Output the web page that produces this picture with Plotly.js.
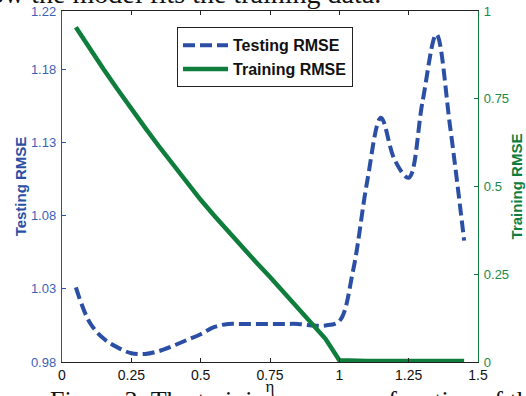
<!DOCTYPE html>
<html><head><meta charset="utf-8">
<script src="https://cdn.plot.ly/plotly-3.0.1.min.js"></script>
<style>html,body{margin:0;padding:0;background:#fff;overflow:hidden}</style>
</head><body><div id="chart" style="width:526px;height:396px"></div>
<script>
const eta = [0.05,0.10,0.15,0.20,0.25,0.30,0.35,0.40,0.45,0.50,0.55,0.60,0.65,0.70,0.75,0.80,0.85,0.90,0.95,1.00,1.05,1.10,1.15,1.20,1.25,1.30,1.35,1.40,1.45];
const testingRMSE = [1.031,1.007,0.996,0.990,0.986,0.9855,0.9875,0.991,0.995,0.999,1.004,1.006,1.006,1.006,1.006,1.006,1.006,1.005,1.005,1.008,1.043,1.103,1.147,1.118,1.106,1.158,1.204,1.140,1.063];
const trainingRMSE = [0.954,0.893,0.834,0.777,0.720,0.667,0.614,0.562,0.511,0.462,0.416,0.371,0.327,0.284,0.242,0.199,0.155,0.111,0.066,0.005,0.003,0.003,0.003,0.003,0.003,0.003,0.003,0.003,0.003];
const xTicks = [0,0.25,0.5,0.75,1,1.25,1.5];
const xTickLabels = ['0','0.25','0.5','0.75','1','1.25','1.5'];
const leftTicks = [0.98,1.03,1.08,1.13,1.18,1.22];
const leftTickLabels = ['0.98','1.03','1.08','1.13','1.18','1.22'];
const rightTicks = [0,0.25,0.5,0.75,1];
const rightTickLabels = ['0','0.25','0.5','0.75','1'];
const seriesNames = ['Testing RMSE','Training RMSE'];
const captionTop = 'how the model fits the training data.';
const captionBottom = 'Figure 3: The training error as a function of the ratio.';

const BLUE = '#2c4fa6';
const BLUE_T = '#3d5fb8';
const GREEN = '#0f7d3c';
const GREEN_T = '#178a48';
const SANS = 'Liberation Sans, Arial, sans-serif';
const SERIF = 'Liberation Serif, Times New Roman, serif';

const traces = [
  {x: eta, y: testingRMSE, yaxis: 'y', type: 'scatter', mode: 'lines', name: seriesNames[0],
   line: {color: BLUE, width: 4, dash: '12px,5px', shape: 'spline', smoothing: 1}},
  {x: eta, y: trainingRMSE, yaxis: 'y2', type: 'scatter', mode: 'lines', name: seriesNames[1],
   line: {color: GREEN, width: 4.5}}
];

const layout = {
  width: 526, height: 396,
  margin: {l: 62, r: 48, t: 11, b: 34, pad: 0},
  paper_bgcolor: '#fff', plot_bgcolor: '#fff',
  showlegend: true,
  legend: {x: 0.276, y: 0.954, xanchor: 'left', yanchor: 'top', bgcolor: '#fff',
    bordercolor: '#222', borderwidth: 1.2, font: {family: SANS, size: 16, color: '#111', weight: 'bold'},
    tracegroupgap: 0, itemwidth: 45},
  xaxis: {range: [0, 1.5], tickvals: xTicks, ticktext: xTickLabels, ticks: 'inside', ticklen: 4,
    tickcolor: '#222', showline: true, linecolor: '#222', linewidth: 1.2, mirror: 'ticks',
    showgrid: false, zeroline: false, tickfont: {family: SANS, size: 14, color: '#111'},
    title: {text: 'η', font: {family: SERIF, size: 17, color: '#111'}, standoff: 2}},
  yaxis: {range: [0.98, 1.22], tickvals: leftTicks, ticktext: leftTickLabels, ticks: 'inside', ticklen: 4,
    tickcolor: BLUE, showline: true, linecolor: BLUE, linewidth: 1.2, showgrid: false, zeroline: false,
    tickfont: {family: SANS, size: 13, color: BLUE_T}, ticklabelstandoff: 2,
    title: {text: 'Testing RMSE', font: {family: SANS, size: 15, color: BLUE, weight: 'bold'}, standoff: 0}},
  yaxis2: {range: [0, 1], overlaying: 'y', side: 'right', tickvals: rightTicks, ticktext: rightTickLabels,
    ticks: 'inside', ticklen: 4, tickcolor: GREEN, showline: true, linecolor: GREEN, linewidth: 1.2,
    showgrid: false, zeroline: false, tickfont: {family: SANS, size: 13, color: GREEN_T}, ticklabelstandoff: 2,
    title: {text: 'Training RMSE', font: {family: SANS, size: 15, color: GREEN, weight: 'bold'}, standoff: 3}},
  yaxis3: {range: [0.98, 1.22], overlaying: 'y', side: 'right', tickvals: leftTicks, ticks: 'inside',
    ticklen: 4, tickcolor: BLUE, showticklabels: false, showline: false, showgrid: false, zeroline: false},
  annotations: [
    {text: captionTop, xref: 'paper', yref: 'paper', x: 0.772, y: 1.05,
     xanchor: 'right', yanchor: 'middle', showarrow: false, font: {family: SERIF, size: 28, color: '#111'}},
    {text: captionBottom, xref: 'paper', yref: 'paper', x: -0.034, y: -0.11,
     xanchor: 'left', yanchor: 'middle', showarrow: false, font: {family: SERIF, size: 26, color: '#111'}}
  ]
};

Plotly.newPlot('chart', traces, layout, {displayModeBar: false, staticPlot: true});
</script>
</body></html>
